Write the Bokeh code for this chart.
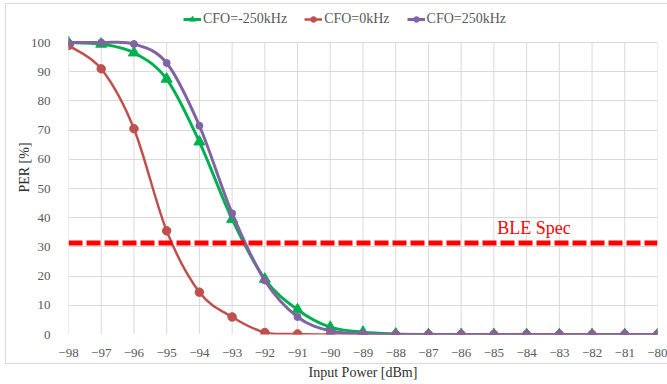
import numpy as np
from bokeh.plotting import figure
from bokeh.models import Range1d, FixedTicker, Legend, LegendItem, Span, InlineStyleSheet
from bokeh.core.properties import value
from bokeh.embed import file_html
from bokeh.resources import INLINE

input_power = [-98, -97, -96, -95, -94, -93, -92, -91, -90, -89, -88, -87, -86, -85, -84, -83, -82, -81, -80]
per_m250 = [100, 99.5, 96.5, 87.5, 66, 39.5, 19, 8.5, 2.5, 0.8, 0.2, 0, 0, 0, 0, 0, 0, 0, 0]
per_0 = [99, 91, 70.5, 35.5, 14.5, 6, 0.7, 0.2, 0, 0, 0, 0, 0, 0, 0, 0, 0, 0, 0]
per_p250 = [100, 100, 99.5, 93, 71.5, 41.5, 18.5, 6, 1.2, 0.3, 0, 0, 0, 0, 0, 0, 0, 0, 0]
series_labels = ["CFO=-250kHz", "CFO=0kHz", "CFO=250kHz"]
ble_spec = 31.3
ble_label = "BLE Spec"
ble_label_x = -84.9
ble_label_offset = 5.3
y_ticks = [0, 10, 20, 30, 40, 50, 60, 70, 80, 90, 100]
y_view_top = 114.4  # headroom above 100 for the legend

FONT = "Liberation Serif"
TXT = "#595959"

border_css = InlineStyleSheet(css="""
:host::after {
  content: "";
  position: absolute;
  left: 5px; top: 3px; right: 0px; height: 361px;
  box-sizing: border-box;
  border: 1px solid #d9d9d9; border-right: none;
  pointer-events: none;
}
""")

p = figure(width=667, height=384, output_backend="svg", toolbar_location=None,
           x_range=Range1d(-98, -80), y_range=Range1d(0, y_view_top),
           min_border_left=68, min_border_right=10, min_border_top=0, min_border_bottom=50)
p.stylesheets = [border_css]
p.outline_line_color = None
p.background_fill_color = "white"
p.border_fill_color = "white"

for ax in (p.xaxis[0], p.yaxis[0]):
    ax.axis_line_color = None
    ax.major_tick_line_color = None
    ax.minor_tick_line_color = None
    ax.major_label_text_font = FONT
    ax.major_label_text_font_size = "13px"
    ax.major_label_text_color = TXT
    ax.axis_label_text_font = FONT
    ax.axis_label_text_font_size = "14px"
    ax.axis_label_text_font_style = "normal"
    ax.axis_label_text_color = "#303030"

p.xaxis.ticker = FixedTicker(ticks=input_power)
p.yaxis.ticker = FixedTicker(ticks=y_ticks)
p.xaxis.axis_label = "Input Power [dBm]"
p.yaxis.axis_label = "PER [%]"
p.xaxis.major_label_standoff = 8
p.xaxis.axis_label_standoff = 5
p.yaxis.major_label_standoff = 12
p.yaxis.axis_label_standoff = -4

GRID = "#d9d9d9"
p.xgrid.visible = False
p.ygrid.grid_line_color = GRID
p.ygrid.ticker = FixedTicker(ticks=y_ticks)
# vertical grid lines limited to the 0..100 band
p.segment(x0=input_power, y0=[y_ticks[0]] * len(input_power),
          x1=input_power, y1=[y_ticks[-1]] * len(input_power),
          line_color=GRID, line_width=1)


def smooth_segments(xs, ys):
    x = np.asarray(xs, dtype=float)
    y = np.asarray(ys, dtype=float)
    xp = np.concatenate([[x[0]], x, [x[-1]]])
    yp = np.concatenate([[y[0]], y, [y[-1]]])
    x0, y0 = x[:-1], y[:-1]
    x1, y1 = x[1:], y[1:]
    cx0 = x0 + (xp[2:-1] - xp[:-3]) / 6.0
    cy0 = y0 + (yp[2:-1] - yp[:-3]) / 6.0
    cx1 = x1 - (xp[3:] - xp[1:-2]) / 6.0
    cy1 = y1 - (yp[3:] - yp[1:-2]) / 6.0
    return dict(x0=x0, y0=y0, x1=x1, y1=y1, cx0=cx0, cy0=cy0, cx1=cx1, cy1=cy1)


spec = Span(location=ble_spec, dimension="width", line_color="#ff0000",
            line_width=5, line_dash="14 4")
p.add_layout(spec)
p.text(x=[ble_label_x], y=[ble_spec + ble_label_offset], text=[ble_label], text_color="#ff0000",
       text_font=value(FONT), text_font_size="18px", text_baseline="alphabetic", text_align="left")

series = [
    (per_m250, "#00b050", "triangle", 11, 3),
    (per_0, "#c0504d", "circle", 8.5, 2.5),
    (per_p250, "#8064a2", "circle", 7, 3),
]
items = []
for (vals, color, marker, size, lw), label in zip(series, series_labels):
    seg = smooth_segments(input_power, vals)
    b = p.bezier(x0=seg["x0"], y0=seg["y0"], x1=seg["x1"], y1=seg["y1"],
                 cx0=seg["cx0"], cy0=seg["cy0"], cx1=seg["cx1"], cy1=seg["cy1"],
                 line_color=color, line_width=lw)
    s = p.scatter(x=input_power, y=vals, marker=marker, size=size,
                  fill_color=color, line_color=color)
    items.append(LegendItem(label=label, renderers=[b, s]))

legend = Legend(items=items, orientation="horizontal", location=(115, 307),
                label_text_font=FONT, label_text_font_size="14px",
                label_text_color=TXT, border_line_color=None,
                background_fill_alpha=0, glyph_width=18, glyph_height=14,
                spacing=17, padding=1, margin=0, label_standoff=2)
p.add_layout(legend)

open("out.html", "w").write(file_html(p, INLINE))
